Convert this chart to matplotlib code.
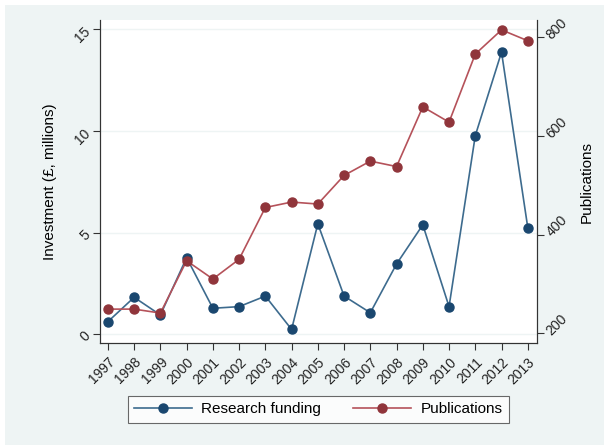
import matplotlib
matplotlib.use('Agg')
import matplotlib.pyplot as plt
from matplotlib.lines import Line2D
from matplotlib.patches import Rectangle

plt.rcParams['font.family'] = ['Liberation Sans', 'DejaVu Sans']

years = list(range(1997, 2014))
funding = [0.61, 1.81, 0.94, 3.76, 1.27, 1.35, 1.87, 0.23, 5.43, 1.87, 1.05, 3.45, 5.38, 1.35, 9.77, 13.88, 5.24]
publications = [249, 249, 241, 347, 310, 350, 455, 466, 462, 520, 549, 538, 659, 628, 766, 815, 793]

left_ticks = [0, 5, 10, 15]
right_ticks = [200, 400, 600, 800]

blue_line = '#3d6b8e'
blue_mark = '#1a476f'
red_line = '#b5525a'
red_mark = '#90353b'
bg = '#eef4f4'

fig = plt.figure(figsize=(6.04, 4.45), dpi=100, facecolor='white')
fig.patches.append(Rectangle((5 / 604, 0), 1, 1 - 5 / 445, transform=fig.transFigure,
                             facecolor=bg, edgecolor='none', zorder=-10))
ax = fig.add_axes([0.1656, 0.2292, 0.7234, 0.7258])
ax.set_facecolor('white')
ax2 = ax.twinx()

for y in left_ticks:
    ax.axhline(y, color=bg, lw=1.0, zorder=0)

ax.plot(years, funding, color=blue_line, lw=1.2, marker='o', ms=6.5,
        mfc=blue_mark, mec=blue_mark, zorder=3)
ax2.plot(years, publications, color=red_line, lw=1.2, marker='o', ms=6.5,
         mfc=red_mark, mec=red_mark, zorder=3)

ax.set_xlim(1996.7, 2013.35)
ax.set_ylim(-0.44, 15.46)
ax2.set_ylim(180.3, 835)

ax.set_xticks(years)
ax.set_xticklabels([str(y) for y in years], rotation=45, ha='right',
                   rotation_mode='anchor', fontsize=10)
ax.set_yticks(left_ticks)
ax.set_yticklabels([str(t) for t in left_ticks], rotation=45, fontsize=10,
                   va='center', ha='right', rotation_mode='anchor')
ax2.set_yticks(right_ticks)
ax2.set_yticklabels([str(t) for t in right_ticks], rotation=45, fontsize=10,
                    va='center', ha='left', rotation_mode='anchor')

for a in (ax, ax2):
    a.tick_params(axis='both', direction='out', length=5, width=0.8,
                  color='#333333', labelcolor='#222222')
    for s in a.spines.values():
        s.set_color('#333333')
        s.set_linewidth(0.8)
ax.spines['top'].set_visible(False)
ax2.spines['top'].set_visible(False)

ax.set_ylabel('Investment (£, millions)', fontsize=11, labelpad=11)
ax2.set_ylabel('Publications', fontsize=11, labelpad=7)

handles = [
    Line2D([], [], color=blue_line, lw=1.2, marker='o', ms=6.5, mfc=blue_mark, mec=blue_mark),
    Line2D([], [], color=red_line, lw=1.2, marker='o', ms=6.5, mfc=red_mark, mec=red_mark),
]
leg = fig.legend(handles, ['Research funding', 'Publications'], loc='center',
                 bbox_to_anchor=(0.527, 0.0800), ncol=2, fontsize=11,
                 frameon=True, fancybox=False, edgecolor='#444444',
                 handlelength=3.8, handletextpad=0.6, columnspacing=2.1,
                 borderpad=0.4, borderaxespad=0)
leg.get_frame().set_linewidth(0.8)

fig.savefig('out.png', dpi=100, facecolor='white')
